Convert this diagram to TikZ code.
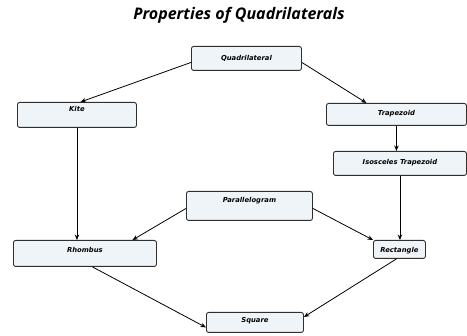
\documentclass[tikz,border=0pt]{standalone}
\usepackage{fontspec}
\newfontfamily\boxfont{DejaVu Sans}
\newfontfamily\titlefont{Open Sans}
\usetikzlibrary{arrows.meta}
\definecolor{boxfill}{HTML}{EEF4F7}
\definecolor{boxdraw}{HTML}{2F2F2F}
\tikzset{
  qbox/.style={draw=boxdraw, fill=boxfill, line width=0.9pt, rounded corners=2.2pt,
    inner sep=0pt, anchor=north west, font=\boxfont\bfseries\itshape\fontsize{6.8}{8}\selectfont},
  arr/.style={draw=black, line width=0.8pt, -{Stealth[length=5.5pt,width=4.5pt]}}
}
\begin{document}
\begin{tikzpicture}[x=1pt,y=-1pt]
\useasboundingbox (0,0) rectangle (467,336);
\node[anchor=base, font=\titlefont\bfseries\itshape\fontsize{16}{18}\selectfont] (title) at (239,20) {Properties of Quadrilaterals};
\node[qbox, minimum width=110pt, text height=14pt, text depth=10pt] (quad) at (191,46) {Quadrilateral};
\node[qbox, minimum width=119pt, text height=9pt, text depth=16pt] (kite) at (17,102) {Kite};
\node[qbox, minimum width=140pt, text height=12pt, text depth=10pt] (trap) at (326,103) {Trapezoid};
\node[qbox, minimum width=133pt, text height=13pt, text depth=11pt] (isos) at (333,151) {Isosceles Trapezoid};
\node[qbox, minimum width=126pt, text height=11pt, text depth=18pt] (para) at (186,191) {Parallelogram};
\node[qbox, minimum width=143pt, text height=12pt, text depth=14pt] (rhom) at (13,240) {Rhombus};
\node[qbox, minimum width=52pt, text height=12pt, text depth=6pt] (rect) at (373,240) {Rectangle};
\node[qbox, minimum width=97pt, text height=10pt, text depth=10pt] (sq) at (206,312) {Square};
\draw[arr] ([yshift=-4pt]quad.west) -- ([xshift=3.5pt]kite.north);
\draw[arr] ([yshift=-4pt]quad.east) -- ([xshift=-30pt]trap.north);
\draw[arr] (trap.south) -- (trap.south |- isos.north);
\draw[arr] (isos.south) -- (isos.south |- rect.north);
\draw[arr] (kite.south) -- (kite.south |- rhom.north);
\draw[arr] ([yshift=-2.5pt]para.west) -- ([xshift=47.5pt]rhom.north);
\draw[arr] ([yshift=-2.5pt]para.east) -- (rect.north west);
\draw[arr] ([xshift=7.5pt]rhom.south) -- ([yshift=-5pt]sq.west);
\draw[arr] ([xshift=-3pt]rect.south) -- ([yshift=-5pt]sq.north east);
\end{tikzpicture}
\end{document}
